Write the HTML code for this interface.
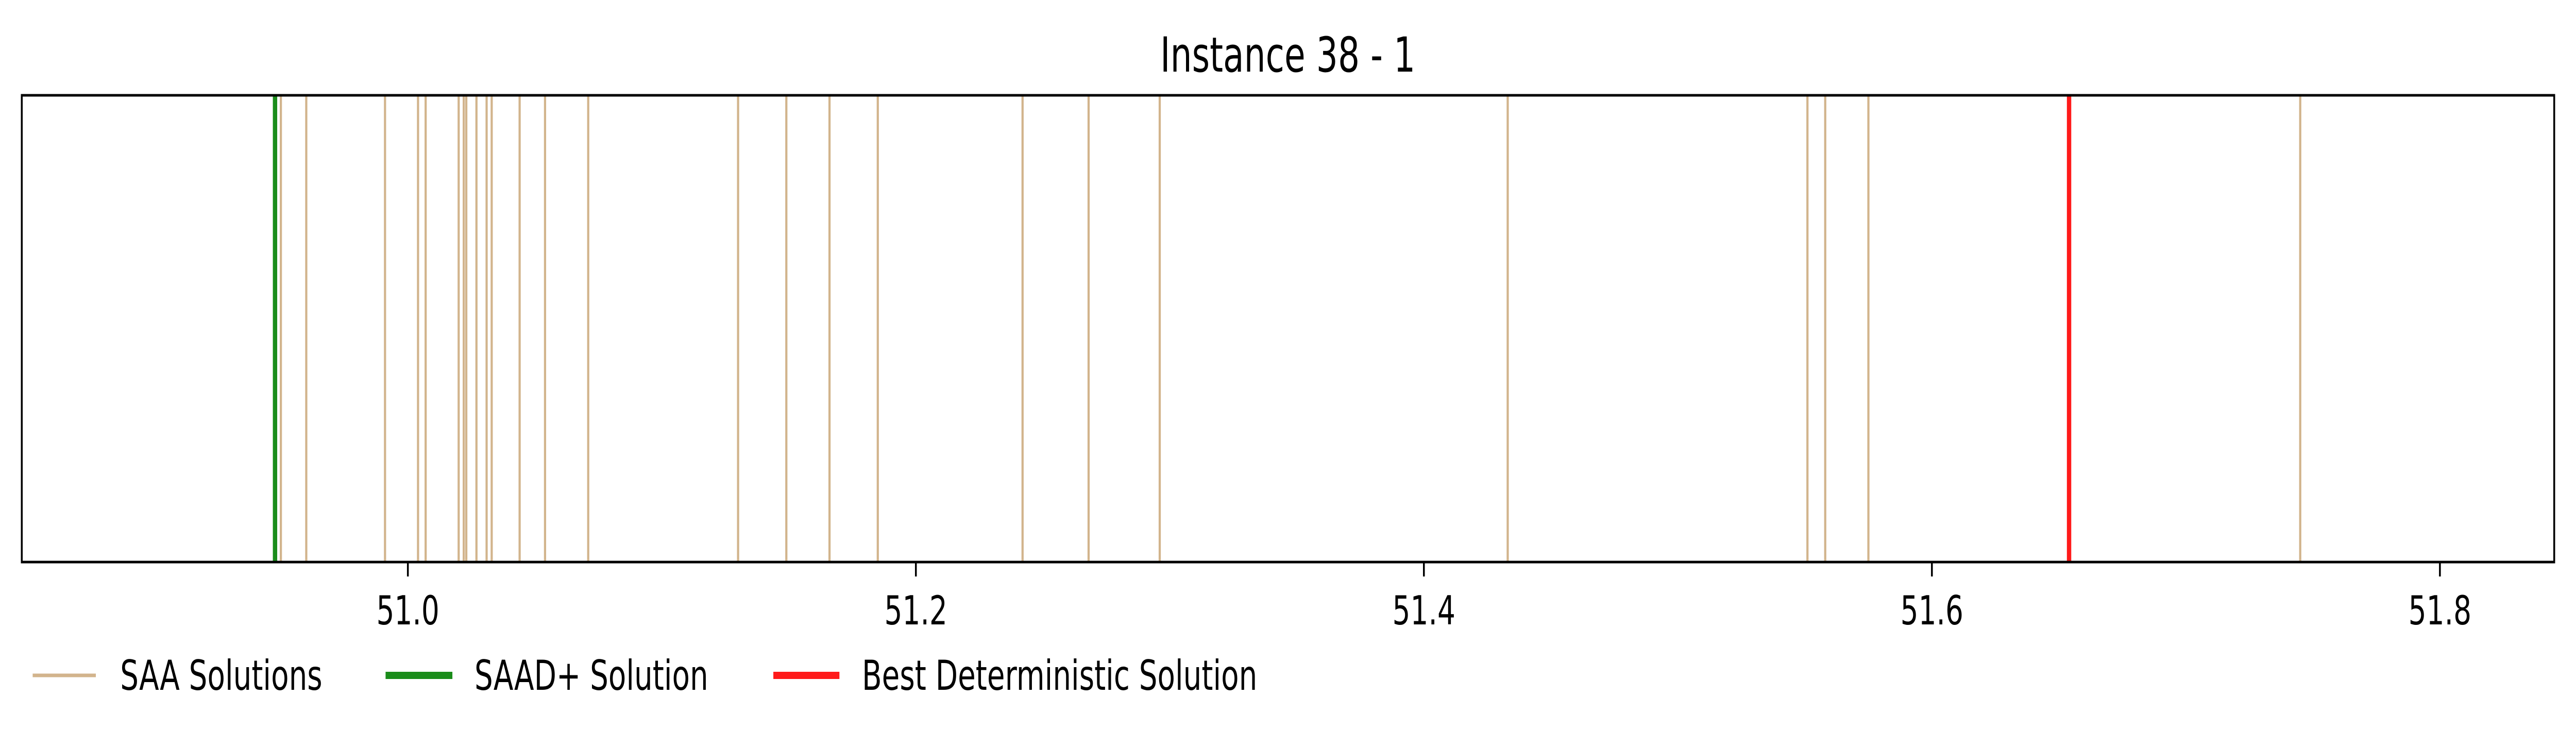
<!DOCTYPE html>
<html><head><meta charset="utf-8"><style>
html,body{margin:0;padding:0;background:#fff;overflow:hidden;width:100%;height:100%;}
svg{display:block;width:100vw;height:100vh;font-family:"DejaVu Sans","Liberation Sans",sans-serif;}
</style></head><body>
<svg id="chart" viewBox="0 0 7095 1450" preserveAspectRatio="none" xmlns="http://www.w3.org/2000/svg">
<rect x="0" y="0" width="7095" height="1450" fill="#fff"/>
<text x="3547" y="139" font-size="94" text-anchor="middle" fill="#000">Instance 38 - 1</text>
<g id="marks"></g>
<g id="xaxis"></g>
<rect x="60" y="185" width="6975" height="906" fill="none" stroke="#000" stroke-width="5"/>
<g>
<g>
<line x1="90" y1="1311" x2="264" y2="1311" stroke="#d2b48c" stroke-width="7"/>
<text x="331" y="1339" font-size="80" fill="#000">SAA Solutions</text></g>
<g>
<line x1="1062" y1="1311" x2="1246" y2="1311" stroke="#1a8c1a" stroke-width="14"/>
<text x="1307" y="1339" font-size="80" fill="#000">SAAD+ Solution</text></g>
<g>
<line x1="2130" y1="1311" x2="2312" y2="1311" stroke="#ff1a1a" stroke-width="14"/>
<text x="2374" y="1339" font-size="80" fill="#000">Best Deterministic Solution</text></g>
</g>
</svg>
<script>
const saaValues = [50.950,50.960,50.991,51.004,51.007,51.020,51.022,51.023,51.027,51.031,51.033,51.044,51.054,51.071,51.130,51.149,51.166,51.185,51.242,51.268,51.296,51.433,51.551,51.558,51.575,51.745];
const saadValue = [50.9477];
const bestDetValue = [51.654];
const tickValues = [51.0,51.2,51.4,51.6,51.8];
const tickLabels = ["51.0","51.2","51.4","51.6","51.8"];
const xDomain = [50.848,51.845];

const NS="http://www.w3.org/2000/svg";
const L=60,R=7035,T=185,B=1091;
function xs(v){return L+(v-xDomain[0])/(xDomain[1]-xDomain[0])*(R-L);}
const marks=document.getElementById('marks');
function vline(v,color,w,name){
  const l=document.createElementNS(NS,'line');
  const x=xs(v);
  l.setAttribute('x1',x);l.setAttribute('x2',x);
  l.setAttribute('y1',T);l.setAttribute('y2',B);
  l.setAttribute('stroke',color);l.setAttribute('stroke-width',w);
  
  
  marks.appendChild(l);
}
saaValues.forEach(v=>vline(v,'#d2b48c',6,'saa-solution-line'));
saadValue.forEach(v=>vline(v,'#1a8c1a',12,'saad-plus-solution-line'));
bestDetValue.forEach(v=>vline(v,'#ff1a1a',12,'best-deterministic-line'));
const xa=document.getElementById('xaxis');
tickValues.forEach((v,i)=>{
  const x=xs(v);
  const t=document.createElementNS(NS,'line');
  t.setAttribute('x1',x);t.setAttribute('x2',x);
  t.setAttribute('y1',B);t.setAttribute('y2',B+28);
  t.setAttribute('stroke','#000');t.setAttribute('stroke-width',5);
  
  
  xa.appendChild(t);
  const tx=document.createElementNS(NS,'text');
  tx.setAttribute('x',x);tx.setAttribute('y',1212);
  tx.setAttribute('font-size',78);tx.setAttribute('text-anchor','middle');
  tx.textContent=tickLabels[i];
  
  
  xa.appendChild(tx);
});
</script>
</body></html>
